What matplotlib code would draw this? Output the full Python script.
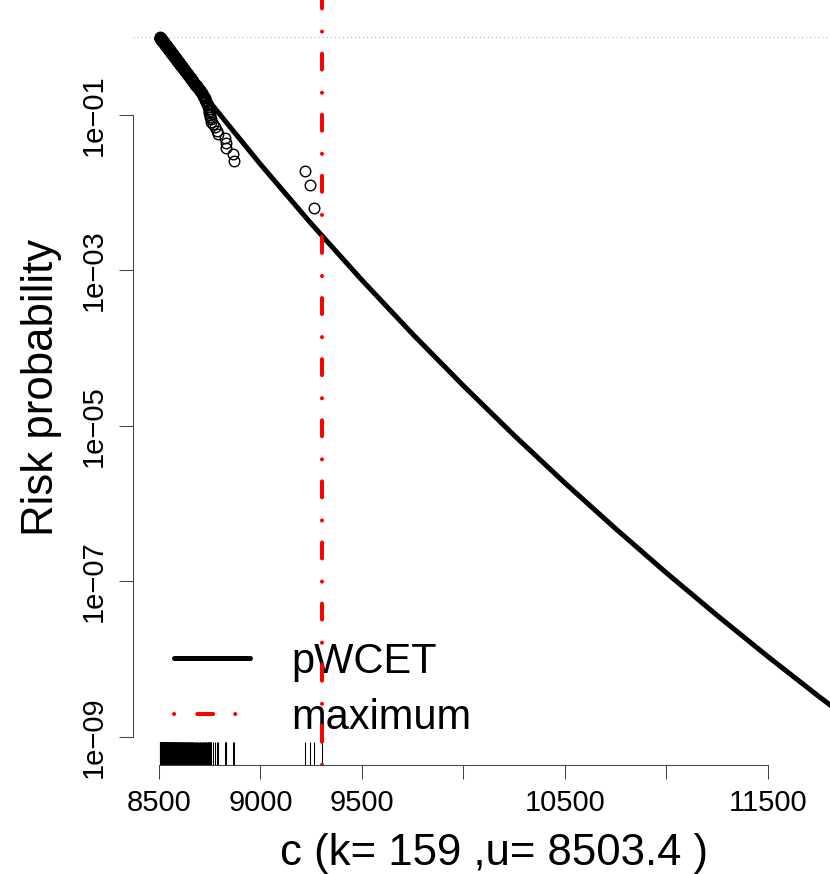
import numpy as np
import matplotlib
matplotlib.use("Agg")
import matplotlib.pyplot as plt

plt.rcParams["font.family"] = ["Liberation Sans", "DejaVu Sans"]
plt.rcParams["lines.scale_dashes"] = False

# observed execution times (sample of k = 159 values)
exec_times = np.array([
    8504.2, 8505.0, 8505.8, 8506.6, 8507.4, 8508.2, 8509.0, 8509.9, 8510.7, 8511.5,
    8512.4, 8513.2, 8514.1, 8514.9, 8515.8, 8516.7, 8517.5, 8518.4, 8519.3, 8520.2,
    8521.1, 8522.0, 8522.9, 8523.9, 8524.8, 8525.7, 8526.7, 8527.6, 8528.6, 8529.5,
    8530.5, 8531.5, 8532.5, 8533.5, 8534.5, 8535.5, 8536.5, 8537.5, 8538.6, 8539.6,
    8540.7, 8541.7, 8542.8, 8543.9, 8545.0, 8546.1, 8547.2, 8548.3, 8549.5, 8550.6,
    8551.7, 8552.9, 8554.1, 8555.3, 8556.5, 8557.7, 8558.9, 8560.1, 8561.4, 8562.6,
    8563.9, 8565.2, 8566.5, 8567.8, 8569.1, 8570.4, 8571.8, 8573.2, 8574.5, 8575.9,
    8577.3, 8578.8, 8580.2, 8581.7, 8583.2, 8584.7, 8586.2, 8587.7, 8589.3, 8590.8,
    8592.4, 8594.0, 8595.7, 8597.3, 8599.0, 8600.7, 8602.4, 8604.2, 8606.0, 8607.7,
    8609.6, 8611.4, 8613.3, 8615.2, 8617.2, 8619.1, 8621.1, 8623.2, 8625.2, 8627.3,
    8629.5, 8631.6, 8633.8, 8636.1, 8638.4, 8640.7, 8643.1, 8645.5, 8648.0, 8650.5,
    8653.1, 8655.7, 8658.4, 8661.2, 8664.0, 8666.9, 8669.8, 8672.8, 8675.9, 8679.1,
    8682.3, 8685.6, 8689.1, 8692.6, 8696.2, 8700.0, 8703.8, 8707.8, 8711.9,
    8716, 8719, 8722, 8725, 8728, 8731, 8734, 8737, 8740, 8742,
    8744, 8746, 8748, 8750, 8752, 8754,
    8757, 8767, 8774, 8784, 8791, 8826, 8829, 8832, 8864, 8868,
    9217, 9245, 9262, 9301,
])
threshold_u = 8503.4
k_value = 159
observed_max = 9301.0

# fitted pWCET curve (c, log10 risk)
pwcet_c = np.array([8503.4, 8600, 8750, 9000, 9250, 9500, 9750, 10000,
                    10250, 10500, 10750, 11000, 11250, 11500, 11750, 12000])
pwcet_log10 = np.array([0.0, -0.332, -0.834, -1.636, -2.399, -3.125, -3.820,
                        -4.484, -5.122, -5.734, -6.322, -6.890, -7.437,
                        -7.966, -8.477, -8.972])

xticks = [8500, 9000, 9500, 10000, 10500, 11000, 11500]
xtick_labels = ["8500", "9000", "9500", "", "10500", "", "11500"]
yticks = [1e-9, 1e-7, 1e-5, 1e-3, 1e-1]
ytick_labels = ["1e\u221209", "1e\u221207", "1e\u221205", "1e\u221203", "1e\u221201"]

W, H = 830, 874
fig = plt.figure(figsize=(W / 100, H / 100), dpi=100)
ax = fig.add_axes([133 / W, 109 / H, 722 / W, 766 / H])

n = len(exec_times)
c_sorted = np.sort(exec_times)
risk = 1 - np.arange(1, n + 1) / n
keep = risk > 0
ax.plot(c_sorted[keep], risk[keep], "o", mfc="none", mec="black",
        ms=7.6, mew=1.0, zorder=2)

curve, = ax.plot(pwcet_c, 10 ** pwcet_log10, color="black", lw=3.6,
                 solid_capstyle="round", label="pWCET", zorder=3)

ax.axhline(1, color="#aaaaaa", lw=0.8, linestyle=(0, (0.7, 2.2)), zorder=1)

red = ax.axvline(observed_max, color="red", lw=2.9,
                 linestyle=(0, (0.1, 16.6, 11.5, 15.8)),
                 dash_capstyle="round", label="maximum", zorder=6)

# rug of observations
ax.vlines(exec_times, 0, 0.03, transform=ax.get_xaxis_transform(),
          colors="black", lw=0.75, zorder=2)

ax.set_yscale("log")
ax.set_xlim(8372, 11929)
ax.set_ylim(10 ** -9.36, 10 ** 0.49)

ax.set_xticks(xticks)
ax.set_xticklabels(xtick_labels)
ax.set_yticks(yticks)
ax.set_yticklabels(ytick_labels, rotation=90, va="center")
ax.minorticks_off()
ax.tick_params(axis="both", length=10, width=0.75, color="#444444",
               labelsize=21, labelcolor="black")
ax.tick_params(axis="x", pad=7.5)
ax.tick_params(axis="y", pad=8)

for side in ["top", "right"]:
    ax.spines[side].set_visible(False)
ax.spines["left"].set_bounds(1e-9, 1e-1)
ax.spines["bottom"].set_bounds(8500, 11500)
for side in ["left", "bottom"]:
    ax.spines[side].set_color("#444444")
    ax.spines[side].set_linewidth(0.75)

ax.patch.set_visible(False)

fig.text(494 / W, 1 - 865 / H, f"c (k= {k_value} ,u= {threshold_u} )",
         ha="center", va="baseline", fontsize=31.5)
fig.text(42 / W, 1 - 387 / H, "Risk probability", rotation=90,
         ha="center", va="center", fontsize=31.5)

ax.legend(handles=[curve, red], frameon=False, fontsize=30,
          loc="upper left", bbox_to_anchor=(174 / W, 1 - 642 / H),
          bbox_transform=fig.transFigure, borderpad=0, borderaxespad=0,
          handlelength=1.82, handletextpad=1.0, labelspacing=0.38)

fig.savefig("out.png", dpi=100)
